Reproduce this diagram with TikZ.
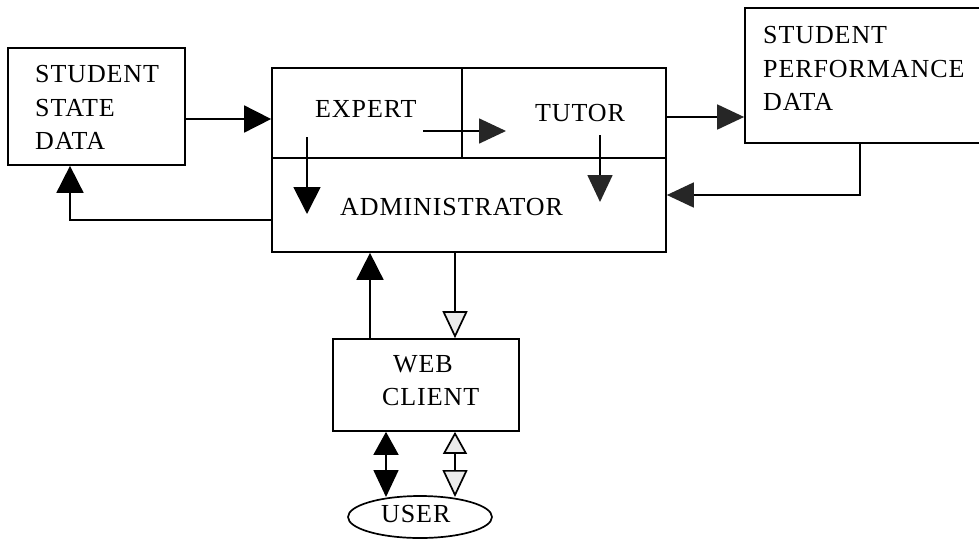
\documentclass[tikz,border=0pt]{standalone}
\usepackage{fontspec}
\setmainfont[LetterSpace=3.5]{Liberation Serif}
\usetikzlibrary{arrows.meta,shapes.geometric}
\tikzset{
  box/.style={draw, line width=1.7pt, rectangle, inner sep=0pt},
  lbl/.style={anchor=base west, inner sep=0pt, font=\fontsize{26pt}{30pt}\selectfont},
  arr/.style={line width=1.7pt, -{Triangle[length=27pt,width=27pt]}},
  darr/.style={line width=1.7pt, -{Triangle[length=27pt,width=25pt,color=black!85]}},
  oarr/.style={line width=1.7pt, -{Triangle[length=27pt,width=25pt,fill=black!8]}},
  oboth/.style={line width=1.7pt, {Triangle[length=22pt,width=24pt,fill=black!8]}-{Triangle[length=27pt,width=25pt,fill=black!8]}},
  bboth/.style={line width=1.7pt, {Triangle[length=23pt,width=25pt]}-{Triangle[length=27pt,width=25pt]}},
}
\begin{document}
\begin{tikzpicture}[x=1pt,y=-1pt]
\useasboundingbox (0,0) rectangle (979,552);
% boxes
\node[box, minimum width=177pt, minimum height=117pt] (ssd) at (96.5,106.5) {};
\node[box, minimum width=394pt, minimum height=184pt] (main) at (469,160) {};
\node[box, minimum width=236pt, minimum height=135pt] (spd) at (863,75.5) {};
\node[box, minimum width=186pt, minimum height=92pt] (web) at (426,385) {};
\node[draw, ellipse, line width=1.7pt, minimum width=144pt, minimum height=42pt, inner sep=0pt] (user) at (420,517) {};
% dividers
\coordinate (dl) at (272,158);
\coordinate (dr) at (666,158);
\coordinate (dv) at (462,158);
\draw[line width=1.7pt] (main.west |- dl) -- (main.east |- dr);
\draw[line width=1.7pt] (main.north -| dv) -- (dv);
% texts
\node[lbl] (t1) at (35,82) {STUDENT};
\node[lbl] (t2) at (35,116) {STATE};
\node[lbl] (t3) at (35,149) {DATA};
\node[lbl] (t4) at (763,43) {STUDENT};
\node[lbl] (t5) at (763,77) {PERFORMANCE};
\node[lbl] (t6) at (763,110) {DATA};
\node[lbl] (t7) at (315,117) {EXPERT};
\node[lbl] (t8) at (535,121) {TUTOR};
\node[lbl] (t9) at (340,215) {ADMINISTRATOR};
\node[lbl] (t10) at (393,372) {WEB};
\node[lbl] (t11) at (382,405) {CLIENT};
\node[lbl] (t12) at (381,522) {USER};
% helper coordinates
\coordinate (y1) at (0,119);
\coordinate (y2) at (0,220);
\coordinate (x1) at (70,0);
\coordinate (y3) at (0,117);
\coordinate (x2) at (860,0);
\coordinate (y4) at (0,195);
\coordinate (ea) at (423,131);
\coordinate (eb) at (506,131);
\coordinate (ec) at (307,137);
\coordinate (ed) at (307,214);
\coordinate (ta) at (600,135);
\coordinate (tb) at (600,202);
\coordinate (x3) at (370,0);
\coordinate (x4) at (455,0);
\coordinate (x5) at (386,0);
\coordinate (ub) at (386,497);
\coordinate (uc) at (455,497);
% connectors
\draw[arr] (ssd.east |- y1) -- (main.west |- y1);
\draw[arr] (main.west |- y2) -| (ssd.south -| x1);
\draw[darr] (main.east |- y3) -- (spd.west |- y3);
\draw[darr] (spd.south -| x2) |- (main.east |- y4);
\draw[darr] (ea) -- (eb);
\draw[arr] (ec) -- (ed);
\draw[darr] (ta) -- (tb);
\draw[arr] (web.north -| x3) -- (main.south -| x3);
\draw[oarr] (main.south -| x4) -- (web.north -| x4);
\draw[bboth] (web.south -| x5) -- (ub);
\draw[oboth] (web.south -| x4) -- (uc);
\end{tikzpicture}
\end{document}
